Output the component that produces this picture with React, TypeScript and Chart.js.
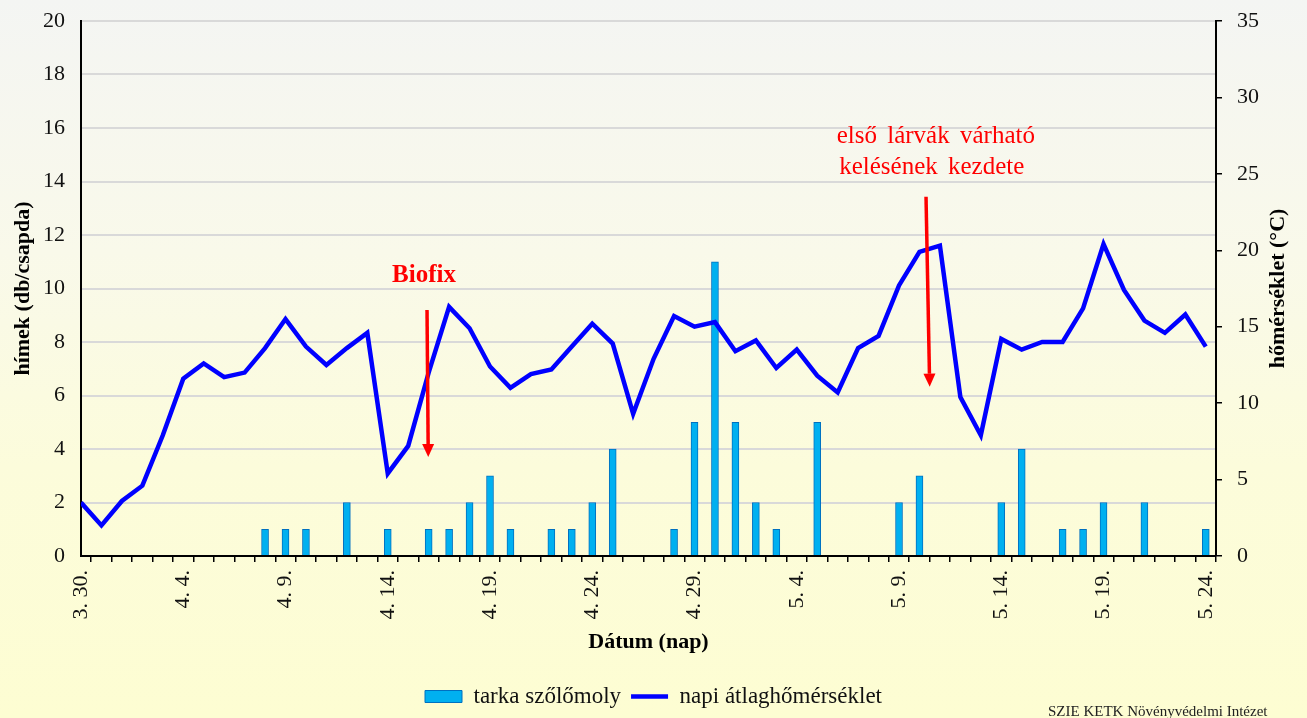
import React, { useEffect, useRef } from 'react';
import { Chart, registerables } from 'chart.js';

Chart.register(...registerables);

// ---- data ----
const dates = [
  '3. 30.', '3. 31.', '4. 1.', '4. 2.', '4. 3.', '4. 4.', '4. 5.', '4. 6.', '4. 7.', '4. 8.',
  '4. 9.', '4. 10.', '4. 11.', '4. 12.', '4. 13.', '4. 14.', '4. 15.', '4. 16.', '4. 17.', '4. 18.',
  '4. 19.', '4. 20.', '4. 21.', '4. 22.', '4. 23.', '4. 24.', '4. 25.', '4. 26.', '4. 27.', '4. 28.',
  '4. 29.', '4. 30.', '5. 1.', '5. 2.', '5. 3.', '5. 4.', '5. 5.', '5. 6.', '5. 7.', '5. 8.',
  '5. 9.', '5. 10.', '5. 11.', '5. 12.', '5. 13.', '5. 14.', '5. 15.', '5. 16.', '5. 17.', '5. 18.',
  '5. 19.', '5. 20.', '5. 21.', '5. 22.', '5. 23.', '5. 24.',
];

// males caught per trap (left axis)
const moths = [
  0, 0, 0, 0, 0, 0, 0, 0, 0, 1,
  1, 1, 0, 2, 0, 1, 0, 1, 1, 2,
  3, 1, 0, 1, 1, 2, 4, 0, 0, 1,
  5, 11, 5, 2, 1, 0, 5, 0, 0, 0,
  2, 3, 0, 0, 0, 2, 4, 0, 1, 1,
  2, 0, 2, 0, 0, 1,
];

// daily mean temperature °C (right axis)
const temps = [
  3.5, 2.0, 3.6, 4.6, 7.9, 11.6, 12.6, 11.7, 12.0, 13.6,
  15.5, 13.7, 12.5, 13.6, 14.6, 5.4, 7.2, 12.0, 16.3, 14.9,
  12.4, 11.0, 11.9, 12.2, 13.7, 15.2, 13.9, 9.3, 12.9, 15.7,
  15.0, 15.3, 13.4, 14.1, 12.3, 13.5, 11.8, 10.7, 13.6, 14.4,
  17.7, 19.9, 20.3, 10.4, 7.9, 14.2, 13.5, 14.0, 14.0, 16.2,
  20.4, 17.4, 15.4, 14.6, 15.8, 13.7,
];

const seriesNames = ['tarka szőlőmoly', 'napi átlaghőmérséklet'];
const axisTitles = ['hímek (db/csapda)', 'hőmérséklet (°C)', 'Dátum (nap)'];
const noteBiofix = 'Biofix';
const noteLarvae = ['első lárvák várható', 'kelésének kezdete'];
const footer = 'SZIE KETK Növényvédelmi Intézet';

const FONT = "'Liberation Serif', 'Times New Roman', serif";

export default function App() {
  const ref = useRef<HTMLCanvasElement>(null);

  useEffect(() => {
    const canvas = ref.current!;

    const drawArrow = (ctx: CanvasRenderingContext2D, x1: number, y1: number, x2: number, y2: number) => {
      const ang = Math.atan2(y2 - y1, x2 - x1);
      const head = 13;
      const half = 6;
      const bx = x2 - Math.cos(ang) * head;
      const by = y2 - Math.sin(ang) * head;
      ctx.save();
      ctx.strokeStyle = '#FF0000';
      ctx.fillStyle = '#FF0000';
      ctx.lineWidth = 3.5;
      ctx.beginPath();
      ctx.moveTo(x1, y1);
      ctx.lineTo(bx, by);
      ctx.stroke();
      ctx.beginPath();
      ctx.moveTo(x2, y2);
      ctx.lineTo(bx + Math.sin(ang) * half, by - Math.cos(ang) * half);
      ctx.lineTo(bx - Math.sin(ang) * half, by + Math.cos(ang) * half);
      ctx.closePath();
      ctx.fill();
      ctx.restore();
    };

    const notes = {
      id: 'notes',
      afterDatasetsDraw(chart: any) {
        const { ctx, scales } = chart;
        const X = (v: number) => scales.x.getPixelForValue(v);
        const Y = (v: number) => scales.y.getPixelForValue(v);
        ctx.save();
        ctx.fillStyle = '#FF0000';
        ctx.textAlign = 'center';
        ctx.textBaseline = 'alphabetic';
        ctx.font = `bold 25px ${FONT}`;
        ctx.fillText(noteBiofix, X(16.77), Y(10.24));
        ctx.font = `25px ${FONT}`;
        (ctx as any).wordSpacing = '4px';
        ctx.fillText(noteLarvae[0], X(41.8), Y(15.44));
        ctx.fillText(noteLarvae[1], X(41.6), Y(14.28));
        ctx.restore();
        drawArrow(ctx, X(16.92), Y(9.2), X(16.98), Y(3.7));
        drawArrow(ctx, X(41.32), Y(13.43), X(41.5), Y(6.33));
      },
      afterDraw(chart: any) {
        const { ctx, chartArea } = chart;
        ctx.save();
        ctx.fillStyle = '#000';
        ctx.font = `bold 22px ${FONT}`;
        ctx.textAlign = 'center';
        ctx.textBaseline = 'middle';
        ctx.translate(1278, (chartArea.top + chartArea.bottom) / 2);
        ctx.rotate(-Math.PI / 2);
        ctx.fillText(axisTitles[1], 0, 0);
        ctx.restore();
        ctx.save();
        ctx.fillStyle = '#222';
        ctx.font = `15px ${FONT}`;
        ctx.textAlign = 'left';
        ctx.textBaseline = 'top';
        ctx.fillText(footer, 1048, 705);
        ctx.restore();
      },
    };

    const chart = new Chart(canvas, {
      type: 'bar',
      data: {
        datasets: [
          {
            type: 'bar',
            label: seriesNames[0],
            data: moths.map((v, i) => ({ x: i, y: v === 0 ? null : v })) as any,
            yAxisID: 'y',
            backgroundColor: '#00B0F0',
            borderColor: '#0070C0',
            borderWidth: 1,
            barThickness: 7,
            order: 2,
          },
          {
            type: 'line',
            label: seriesNames[1],
            data: temps.map((t, i) => ({ x: i, y: t })) as any,
            yAxisID: 'y1',
            borderColor: '#0000FF',
            backgroundColor: '#0000FF',
            borderWidth: 4.5,
            pointRadius: 0,
            tension: 0,
            order: 1,
          },
        ] as any,
      },
      options: {
        responsive: false,
        animation: false,
        maintainAspectRatio: false,
        layout: { padding: { top: 21, left: 0, right: 0, bottom: 0 } },
        plugins: {
          tooltip: { enabled: false },
          legend: {
            position: 'bottom',
            labels: {
              usePointStyle: true,
              pointStyleWidth: 37,
              boxHeight: 12,
              padding: 10,
              color: '#111',
              font: { family: FONT, size: 23 },
              sort: (a: any, b: any) => a.datasetIndex - b.datasetIndex,
              generateLabels: (c: any) => {
                const items = (Chart.defaults.plugins.legend.labels as any).generateLabels(c);
                items.forEach((it: any) => {
                  it.pointStyle = it.datasetIndex === 0 ? 'rect' : 'line';
                });
                return items;
              },
            },
          },
        },
        scales: {
          x: {
            type: 'linear',
            min: 0,
            max: 55.5,
            offset: false,
            grid: { display: true, drawOnChartArea: false, drawTicks: true, tickLength: 6, color: '#000', lineWidth: 1.5 },
            border: { display: true, color: '#000', width: 2 },
            ticks: {
              stepSize: 1,
              autoSkip: false,
              includeBounds: false,
              maxRotation: 90,
              minRotation: 90,
              padding: 8,
              color: '#111',
              font: { family: FONT, size: 22 },
              callback: (v: any) => {
                const i = Number(v);
                return Number.isInteger(i) && i % 5 === 0 ? dates[i] : '';
              },
            },
            title: {
              display: true,
              text: axisTitles[2],
              color: '#000',
              font: { family: FONT, size: 22, weight: 'bold' },
              padding: { top: 4, bottom: 19 },
            },
            afterFit: (s: any) => { s.height = 119; },
          },
          y: {
            type: 'linear',
            position: 'left',
            min: 0,
            max: 20,
            grid: { color: '#d9d9d9', lineWidth: 2, drawTicks: false },
            border: { display: true, color: '#000', width: 2 },
            ticks: { stepSize: 2, padding: 16, color: '#111', font: { family: FONT, size: 22 } },
            title: {
              display: true,
              text: axisTitles[0],
              color: '#000',
              font: { family: FONT, size: 22, weight: 'bold' },
              padding: { top: 10, bottom: 0 },
            },
            afterFit: (s: any) => { s.width = 81; s.paddingTop = 0; },
          },
          y1: {
            type: 'linear',
            position: 'right',
            min: 0,
            max: 35,
            grid: { drawOnChartArea: false, drawTicks: true, tickLength: 6, color: '#000', lineWidth: 1.5 },
            border: { display: true, color: '#000', width: 2 },
            ticks: { stepSize: 5, padding: 15, color: '#111', font: { family: FONT, size: 22 } },
            afterFit: (s: any) => { s.width = 91; s.paddingTop = 0; },
          },
        },
      } as any,
      plugins: [notes],
    });

    return () => chart.destroy();
  }, []);

  return (
    <div
      style={{
        position: 'absolute',
        left: 0,
        top: 0,
        width: 1307,
        height: 718,
        overflow: 'hidden',
        background: 'linear-gradient(to bottom, #f4f5f3 0%, #f9f9ea 35%, #fcfcdb 65%, #fdfdd2 100%)',
      }}
    >
      <canvas ref={ref} width={1307} height={718} style={{ width: 1307, height: 718, display: 'block' }} />
    </div>
  );
}
